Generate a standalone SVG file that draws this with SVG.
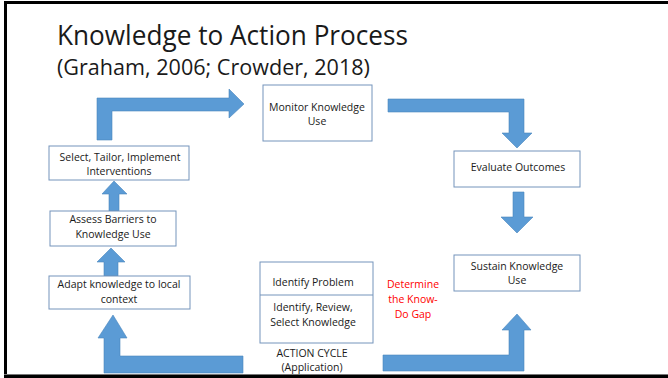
<svg xmlns="http://www.w3.org/2000/svg" width="668" height="378" viewBox="0 0 668 378">
  <style>
    .box { fill: #ffffff; stroke: #7494bb; stroke-width: 1; }
    .arrow { fill: #5b9bd5; stroke: #4a86bd; stroke-width: 0.6; }
    .lbl { font-family: "Open Sans", "Liberation Sans", sans-serif; font-size: 10.5px; fill: #1a1a1a; text-anchor: middle; }
    .red { font-family: "Open Sans", "Liberation Sans", sans-serif; font-size: 10.5px; fill: #ff0000; text-anchor: middle; }
    .title { font-family: "Open Sans", "Liberation Sans", sans-serif; fill: #1a1a1a; }
  </style>
  <defs>
    <marker id="redhead" viewBox="0 0 6 6" refX="3" refY="3" markerWidth="4" markerHeight="4" orient="auto-start-reverse">
      <path d="M0,0 L6,3 L0,6 z" fill="#ff0000"/>
    </marker>
  </defs>

  <rect x="0" y="0" width="668" height="378" fill="#ffffff"/>

  <!-- slide frame -->
  <g id="frame">
    <rect x="4" y="1" width="664" height="3" fill="#000000"/>
    <rect x="4" y="1" width="3" height="377" fill="#000000"/>
    <rect x="4" y="374" width="664" height="1" fill="#777777"/>
    <rect x="4" y="375" width="664" height="3" fill="#000000"/>
  </g>

  <!-- heading -->
  <g id="heading">
    <text class="title" x="57" y="45" font-size="27" textLength="351" lengthAdjust="spacingAndGlyphs">Knowledge to Action Process</text>
    <text class="title" x="57" y="75" font-size="21" textLength="313" lengthAdjust="spacingAndGlyphs">(Graham, 2006; Crowder, 2018)</text>
  </g>

  <!-- block arrows -->
  <g id="connectors">
    <!-- Select → Monitor -->
    <path class="arrow" d="M97,140 L97,98 L229,98 L229,89 L244,104 L229,118 L229,111 L112,111 L112,140 Z"/>
    <!-- Monitor → Evaluate -->
    <path class="arrow" d="M388,99 L524,99 L524,133 L532,133 L517,148 L502,133 L509,133 L509,112 L388,112 Z"/>
    <!-- Evaluate → Sustain -->
    <path class="arrow" d="M513,192 L524,192 L524,217 L533,217 L517,233 L501,217 L513,217 Z"/>
    <!-- Action cycle → Sustain -->
    <path class="arrow" d="M383,355 L509,355 L509,330 L502,330 L517,314 L531,330 L524,330 L524,371 L383,371 Z"/>
    <!-- Action cycle → Adapt -->
    <path class="arrow" d="M243,356 L120,356 L120,338 L127,338 L113,315 L98,338 L104,338 L104,373 L243,373 Z"/>
    <!-- Adapt → Assess -->
    <path class="arrow" d="M104,276 L104,262 L97,262 L111,248 L125,262 L118,262 L118,276 Z"/>
    <!-- Assess → Select -->
    <path class="arrow" d="M109,211 L109,194 L102,194 L114,181 L127,194 L119,194 L119,211 Z"/>
    <!-- know-do gap marker -->
    <line x1="364" y1="290" x2="364" y2="305" stroke="#ff0000" stroke-width="1" marker-start="url(#redhead)" marker-end="url(#redhead)"/>
  </g>

  <g id="monitor">
    <rect class="box" x="263" y="85" width="109" height="56"/>
    <text class="lbl" x="317" y="111">Monitor Knowledge</text>
    <text class="lbl" x="317" y="125">Use</text>
  </g>

  <g id="evaluate">
    <rect class="box" x="454" y="151" width="126" height="36"/>
    <text class="lbl" x="518" y="171">Evaluate Outcomes</text>
  </g>

  <g id="sustain">
    <rect class="box" x="454" y="255" width="126" height="36"/>
    <text class="lbl" x="517" y="270">Sustain Knowledge</text>
    <text class="lbl" x="517" y="284">Use</text>
  </g>

  <g id="select">
    <rect class="box" x="49" y="146" width="140" height="34"/>
    <text class="lbl" x="120" y="161">Select, Tailor, Implement</text>
    <text class="lbl" x="119" y="175">Interventions</text>
  </g>

  <g id="assess">
    <rect class="box" x="50" y="211" width="126" height="35"/>
    <text class="lbl" x="113" y="223">Assess Barriers to</text>
    <text class="lbl" x="113" y="238">Knowledge Use</text>
  </g>

  <g id="adapt">
    <rect class="box" x="49" y="276" width="141" height="33"/>
    <text class="lbl" x="119" y="288">Adapt knowledge to local</text>
    <text class="lbl" x="119" y="303">context</text>
  </g>

  <g id="action-cycle">
    <rect class="box" x="260" y="262" width="113" height="81"/>
    <line x1="260" y1="295" x2="373" y2="295" stroke="#7494bb" stroke-width="1"/>
    <text class="lbl" x="313" y="286">Identify Problem</text>
    <text class="lbl" x="313" y="311">Identify, Review,</text>
    <text class="lbl" x="313" y="326">Select Knowledge</text>
    <text class="lbl" x="312" y="357">ACTION CYCLE</text>
    <text class="lbl" x="312" y="371">(Application)</text>
  </g>

  <g id="know-do-gap">
    <text class="red" x="413" y="288">Determine</text>
    <text class="red" x="413" y="303">the Know-</text>
    <text class="red" x="413" y="318">Do Gap</text>
  </g>
</svg>
